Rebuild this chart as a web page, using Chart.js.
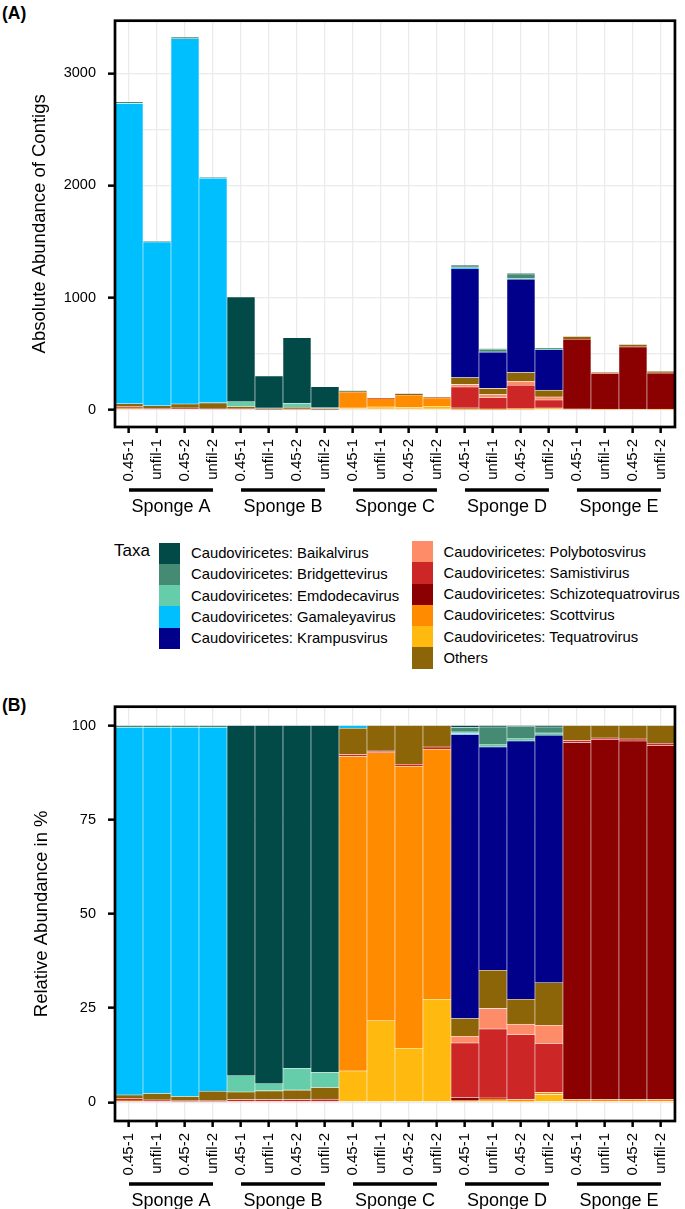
<!DOCTYPE html>
<html>
<head>
<meta charset="utf-8">
<script src="https://cdn.jsdelivr.net/npm/chart.js@4/dist/chart.umd.min.js"></script>
<style>
  body { margin: 0; background: #fff; font-family: "Liberation Sans", Arial, sans-serif; }
  #page { position: relative; width: 685px; height: 1209px; overflow: hidden; }
  canvas { position: absolute; left: 0; }
  .tag { position: absolute; left: 2px; font-weight: bold; font-size: 17.5px; line-height: 18px; }
  .key { position: absolute; width: 21px; height: 21.3px; }
  .lab { position: absolute; font-size: 14.8px; line-height: 18px; white-space: nowrap; }
</style>
</head>
<body>
<div id="page">
  <div class="tag" style="top:4px">(A)</div>
  <canvas id="chartAbs" width="685" height="530" style="top:0"></canvas>
  <div id="legend"></div>
  <div class="tag" style="top:696px">(B)</div>
  <canvas id="chartRel" width="685" height="523" style="top:686px"></canvas>
</div>
<script>
// samples and groups
const sampleNames = ["0.45-1", "unfil-1", "0.45-2", "unfil-2"];
const sponges = ["Sponge A", "Sponge B", "Sponge C", "Sponge D", "Sponge E"];

// total contigs per sample (panel A bar heights)
const totals = [2746, 1504, 3325, 2074, 1004, 300, 642, 205, 168, 105, 143, 111,
                1287, 542, 1213, 548, 653, 334, 582, 342];

// relative abundance in % per taxon (panel B)
const baikalvirus   = [0, 0, 0, 0, 93.0, 95.1, 91.0, 92.1, 0, 0, 0, 0, 0.5, 0.4, 0.3, 0.4, 0, 0, 0, 0];
const bridgettevirus = [0.5, 0.5, 0.5, 0.5, 0, 0, 0, 0, 0, 0, 0, 0, 1.2, 4.7, 3.2, 1.6, 0, 0, 0, 0];
const emdodecavirus = [0, 0, 0, 0, 4.3, 1.9, 5.8, 4.0, 0, 0, 0, 0, 0.4, 0.6, 0.6, 0.6, 0, 0, 0, 0];
const gamaleyavirus = [97.6, 97.2, 98.0, 96.6, 0, 0, 0, 0, 0.7, 0, 0, 0, 0.3, 0, 0, 0, 0, 0, 0, 0];
const krampusvirus  = [0, 0, 0, 0, 0, 0, 0, 0, 0, 0, 0, 0, 75.4, 59.3, 68.6, 65.7, 0, 0, 0, 0];
const polybotosvirus = [0, 0, 0, 0, 0, 0, 0, 0, 0, 0, 0, 0, 1.8, 5.5, 2.8, 4.8, 0, 0, 0, 0];
const samistivirus  = [0.6, 0.6, 0.4, 0.4, 0.7, 0.7, 0.7, 0.8, 0.5, 0.4, 0.5, 0.6, 14.5, 18.3, 17.2, 13.0, 0.5, 0.5, 0.5, 0.6];
const schizotequatrovirus = [0, 0, 0, 0, 0, 0, 0, 0, 0, 0, 0, 0, 0.8, 0.2, 0, 0, 94.8, 95.5, 95.2, 94.0];
const scottvirus    = [0, 0, 0, 0, 0, 0, 0, 0, 83.5, 71.2, 74.9, 66.4, 0.2, 0.6, 0.5, 0.6, 0.7, 0.7, 0.7, 0.7];
const tequatrovirus = [0.3, 0, 0, 0, 0, 0, 0, 0, 8.3, 21.6, 14.3, 27.3, 0.2, 0.3, 0.2, 2.0, 0, 0, 0, 0];
const others        = [1.0, 1.7, 1.1, 2.5, 2.0, 2.3, 2.5, 3.1, 7.0, 6.8, 10.3, 5.7, 4.7, 10.1, 6.6, 11.3, 4.0, 3.3, 3.6, 4.7];

// legend order
const taxa = [
  ["Caudoviricetes: Baikalvirus", "#024A48", baikalvirus],
  ["Caudoviricetes: Bridgettevirus", "#458B74", bridgettevirus],
  ["Caudoviricetes: Emdodecavirus", "#66CDAA", emdodecavirus],
  ["Caudoviricetes: Gamaleyavirus", "#00BFFF", gamaleyavirus],
  ["Caudoviricetes: Krampusvirus", "#00008B", krampusvirus],
  ["Caudoviricetes: Polybotosvirus", "#FF8C69", polybotosvirus],
  ["Caudoviricetes: Samistivirus", "#CD2626", samistivirus],
  ["Caudoviricetes: Schizotequatrovirus", "#8B0000", schizotequatrovirus],
  ["Caudoviricetes: Scottvirus", "#FF8C00", scottvirus],
  ["Caudoviricetes: Tequatrovirus", "#FFB90F", tequatrovirus],
  ["Others", "#8B6508", others]
];

// stacking order, bottom to top
const stackOrder = [9, 8, 7, 6, 5, 10, 4, 3, 2, 1, 0];

let labels = [];
for (let g = 0; g < sponges.length; g++) {
  for (let s = 0; s < sampleNames.length; s++) labels.push(sampleNames[s]);
}

Chart.defaults.font.family = '"Liberation Sans", Arial, sans-serif';
Chart.defaults.color = "#000";

function makeDatasets(absolute) {
  return stackOrder.map(i => ({
    label: taxa[i][0],
    backgroundColor: taxa[i][1],
    borderColor: "rgba(255,255,255,0.3)",
    borderWidth: 0.6,
    borderSkipped: false,
    categoryPercentage: 1,
    barPercentage: 1,
    data: taxa[i][2].map((v, k) => absolute ? totals[k] * v / 100 : v)
  }));
}

// frame round the panel + sponge group bars under the sample labels
const framePlugin = {
  id: "frame",
  afterDraw(chart) {
    const ctx = chart.ctx;
    const a = chart.chartArea;
    const xs = chart.scales.x;
    ctx.save();
    ctx.strokeStyle = "#000";
    ctx.lineWidth = 2.7;
    ctx.strokeRect(a.left, a.top, a.right - a.left, a.bottom - a.top);
    ctx.fillStyle = "#000";
    ctx.font = '18px "Liberation Sans", Arial, sans-serif';
    ctx.textAlign = "center";
    ctx.textBaseline = "middle";
    for (let g = 0; g < sponges.length; g++) {
      const x1 = xs.getPixelForValue(g * 4);
      const x2 = xs.getPixelForValue(g * 4 + 3);
      ctx.lineWidth = 3.5;
      ctx.beginPath();
      ctx.moveTo(x1, a.bottom + 63);
      ctx.lineTo(x2, a.bottom + 63);
      ctx.stroke();
      ctx.fillText(sponges[g], (x1 + x2) / 2, a.bottom + 80);
    }
    ctx.restore();
  }
};

function makeChart(id, absolute, yMin, yMax, yTicks, labelEvery, title, titlePad, padTop, xHeight) {
  new Chart(document.getElementById(id), {
    type: "bar",
    data: { labels: labels, datasets: makeDatasets(absolute) },
    plugins: [framePlugin],
    options: {
      responsive: false,
      animation: false,
      devicePixelRatio: 1,
      layout: { padding: { top: padTop, right: 2, left: 0, bottom: 0 } },
      plugins: { legend: { display: false }, tooltip: { enabled: false } },
      scales: {
        x: {
          stacked: true,
          offset: true,
          border: { display: false },
          grid: { offset: false, color: "#EBEBEB", lineWidth: 1.3, tickColor: "#000", tickWidth: 2.5, tickLength: 6 },
          ticks: { autoSkip: false, maxRotation: 90, minRotation: 90, padding: 6, font: { size: 15 }, color: "#000" },
          afterFit: s => { s.height = xHeight; }
        },
        y: {
          stacked: true,
          min: yMin,
          max: yMax,
          border: { display: false },
          afterBuildTicks: s => { s.ticks = yTicks.map(v => ({ value: v })); },
          grid: {
            color: "#EBEBEB",
            lineWidth: 1.3,
            tickWidth: 2.5,
            tickLength: 7,
            tickColor: c => (c.tick && c.tick.value % labelEvery === 0) ? "#000" : "rgba(0,0,0,0)"
          },
          ticks: {
            padding: 12,
            font: { size: 14.5 },
            color: "#000",
            callback: v => v % labelEvery === 0 ? v : ""
          },
          title: { display: true, text: title, font: { size: 18.5 }, color: "#000", padding: { top: titlePad, bottom: 0 } },
          afterFit: s => { s.width = 115; }
        }
      }
    }
  });
}

makeChart("chartAbs", true, -155, 3470, [0, 500, 1000, 1500, 2000, 2500, 3000], 1000,
          "Absolute Abundance of Contigs", 29, 4, 103);
makeChart("chartRel", false, -5, 105, [0, 25, 50, 75, 100], 25,
          "Relative Abundance in %", 31, 10, 88);

// legend, two columns
const legend = document.getElementById("legend");
let html = '<div class="lab" style="left:114px;top:541px;font-size:17px;line-height:20px">Taxa</div>';
for (let i = 0; i < taxa.length; i++) {
  const col = i < 5 ? 0 : 1;
  const row = col === 0 ? i : i - 5;
  const keyX = col === 0 ? 159 : 411.5;
  const top = (col === 0 ? 542.7 : 541) + row * 21.25;
  html += '<div class="key" style="left:' + keyX + 'px;top:' + top + 'px;background:' + taxa[i][1] + '"></div>';
  html += '<div class="lab" style="left:' + (keyX + 32) + 'px;top:' + (top + 1.5) + 'px">' + taxa[i][0] + '</div>';
}
legend.innerHTML = html;
</script>
</body>
</html>
